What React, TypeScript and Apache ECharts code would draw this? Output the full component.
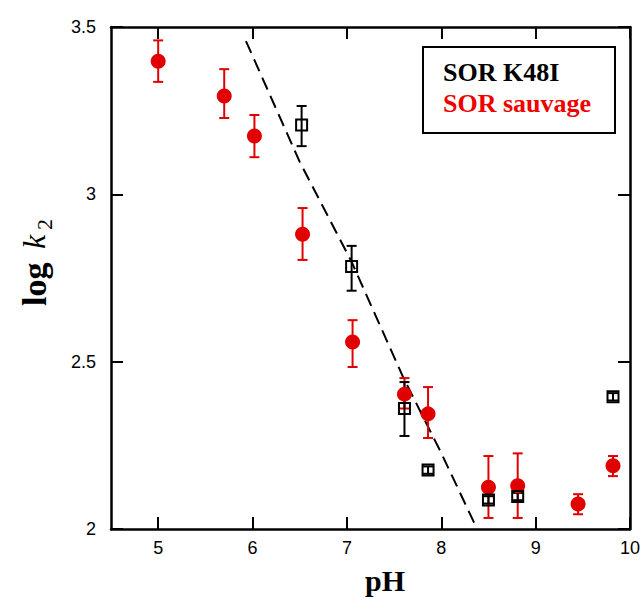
import React, { useEffect, useRef } from "react";
import * as echarts from "echarts";

// SOR sauvage (red, filled circles)
const redPH = [5.0, 5.7, 6.02, 6.53, 7.06, 7.61, 7.86, 8.5, 8.81, 9.45, 9.82];
const redLog = [3.398, 3.294, 3.174, 2.881, 2.559, 2.403, 2.344, 2.125, 2.129, 2.075, 2.189];
const redLow = [3.336, 3.228, 3.111, 2.804, 2.484, 2.36, 2.272, 2.033, 2.033, 2.044, 2.158];
const redHigh = [3.46, 3.374, 3.237, 2.959, 2.624, 2.451, 2.424, 2.218, 2.226, 2.104, 2.218];

// SOR K48I (black, open squares)
const blackPH = [6.52, 7.05, 7.61, 7.86, 8.5, 8.81, 9.82];
const blackLog = [3.207, 2.784, 2.36, 2.176, 2.087, 2.097, 2.395];
const blackLow = [3.144, 2.712, 2.278, 2.165, 2.076, 2.086, 2.384];
const blackHigh = [3.264, 2.846, 2.439, 2.187, 2.098, 2.108, 2.406];

// dashed fit line
const fitPH = [5.93, 6.5, 7.05, 7.6, 8.0, 8.38];
const fitLog = [3.458, 3.097, 2.798, 2.451, 2.227, 2.0];

const xTicks = [5, 6, 7, 8, 9, 10];

const RED = "#e00000";

function errorSeries(ph: number[], lo: number[], hi: number[], color: string, z: number) {
  return {
    type: "custom",
    z,
    clip: true,
    data: ph.map((p, i) => [p, lo[i], hi[i]]),
    encode: { x: 0, y: [1, 2] },
    renderItem: (params: any, api: any) => {
      const x = api.value(0);
      const a = api.coord([x, api.value(1)]);
      const b = api.coord([x, api.value(2)]);
      const w = 5;
      const st = { stroke: color, lineWidth: 2 };
      return {
        type: "group",
        children: [
          { type: "line", shape: { x1: a[0], y1: a[1], x2: b[0], y2: b[1] }, style: st },
          { type: "line", shape: { x1: a[0] - w, y1: a[1], x2: a[0] + w, y2: a[1] }, style: st },
          { type: "line", shape: { x1: b[0] - w, y1: b[1], x2: b[0] + w, y2: b[1] }, style: st },
        ],
      };
    },
  };
}

export default function App() {
  const ref = useRef<HTMLDivElement>(null);
  useEffect(() => {
    if (!ref.current) return;
    const chart = echarts.init(ref.current, null, { renderer: "svg" });
    const axisLine = { show: true, lineStyle: { color: "#000", width: 2.5 } };
    const tick = { show: true, inside: true, length: 12, lineStyle: { color: "#000", width: 2 } };
    const labelFont = { color: "#000", fontSize: 18, fontFamily: "Liberation Sans, Arial, sans-serif" };
    chart.setOption({
      animation: false,
      backgroundColor: "#fff",
      grid: { left: 111, right: 11, top: 27, bottom: 69 },
      xAxis: [
        {
          type: "value",
          min: 4.5,
          max: 10,
          position: "bottom",
          axisLine,
          axisTick: { ...tick, customValues: xTicks },
          axisLabel: { ...labelFont, margin: 10, customValues: xTicks },
          splitLine: { show: false },
        },
        {
          type: "value",
          min: 4.5,
          max: 10,
          position: "top",
          axisLine,
          axisTick: { ...tick, customValues: xTicks },
          axisLabel: { show: false },
          splitLine: { show: false },
        },
      ],
      yAxis: [
        {
          type: "value",
          min: 2,
          max: 3.5,
          interval: 0.5,
          position: "left",
          axisLine,
          axisTick: tick,
          axisLabel: { ...labelFont, margin: 15 },
          splitLine: { show: false },
        },
        {
          type: "value",
          min: 2,
          max: 3.5,
          interval: 0.5,
          position: "right",
          axisLine,
          axisTick: tick,
          axisLabel: { show: false },
          splitLine: { show: false },
        },
      ],
      series: [
        {
          type: "line",
          data: fitPH.map((p, i) => [p, fitLog[i]]),
          showSymbol: false,
          symbol: "none",
          clip: true,
          z: 1,
          lineStyle: { color: "#000", width: 2, type: [13, 7] },
        },
        errorSeries(redPH, redLow, redHigh, RED, 2),
        errorSeries(blackPH, blackLow, blackHigh, "#000", 3),
        {
          type: "scatter",
          z: 4,
          data: redPH.map((p, i) => [p, redLog[i]]),
          symbol: "circle",
          symbolSize: 15,
          itemStyle: { color: RED, opacity: 1 },
        },
        {
          type: "scatter",
          z: 5,
          data: blackPH.map((p, i) => [p, blackLog[i]]),
          symbol: "rect",
          symbolSize: 11,
          itemStyle: { color: "rgba(0,0,0,0)", borderColor: "#000", borderWidth: 2, opacity: 1 },
        },
      ],
      graphic: [
        {
          type: "rect",
          shape: { x: 423, y: 47, width: 192, height: 86 },
          style: { fill: "#fff", stroke: "#000", lineWidth: 2 },
          z: 10,
        },
        {
          type: "text",
          x: 443,
          y: 85,
          z: 11,
          style: {
            text: "SOR K48I",
            fill: "#000",
            font: "bold 26px 'Liberation Serif', 'Times New Roman', serif",
            textVerticalAlign: "bottom",
          },
        },
        {
          type: "text",
          x: 443,
          y: 116,
          z: 11,
          style: {
            text: "SOR sauvage",
            fill: "#f00000",
            font: "bold 26px 'Liberation Serif', 'Times New Roman', serif",
            textVerticalAlign: "bottom",
          },
        },
        {
          type: "text",
          x: 385,
          y: 580,
          style: {
            text: "pH",
            fill: "#000",
            font: "bold 30px 'Liberation Serif', 'Times New Roman', serif",
            textAlign: "center",
            textVerticalAlign: "middle",
          },
        },
        {
          type: "group",
          x: 34,
          y: 306,
          rotation: Math.PI / 2,
          children: [
            {
              type: "text",
              x: 0,
              y: 0,
              style: {
                text: "log",
                fill: "#000",
                font: "bold 34px 'Liberation Serif', 'Times New Roman', serif",
                textVerticalAlign: "middle",
              },
            },
            {
              type: "text",
              x: 57,
              y: 0,
              style: {
                text: "k",
                fill: "#000",
                font: "italic 32px 'Liberation Serif', 'Times New Roman', serif",
                textVerticalAlign: "middle",
              },
            },
            {
              type: "text",
              x: 76,
              y: 10,
              style: {
                text: "2",
                fill: "#000",
                font: "22px 'Liberation Serif', 'Times New Roman', serif",
                textVerticalAlign: "middle",
              },
            },
          ],
        },
      ],
    });
    return () => chart.dispose();
  }, []);
  return (
    <div
      ref={ref}
      style={{ position: "fixed", left: 0, top: 0, width: 643, height: 598 }}
    />
  );
}
